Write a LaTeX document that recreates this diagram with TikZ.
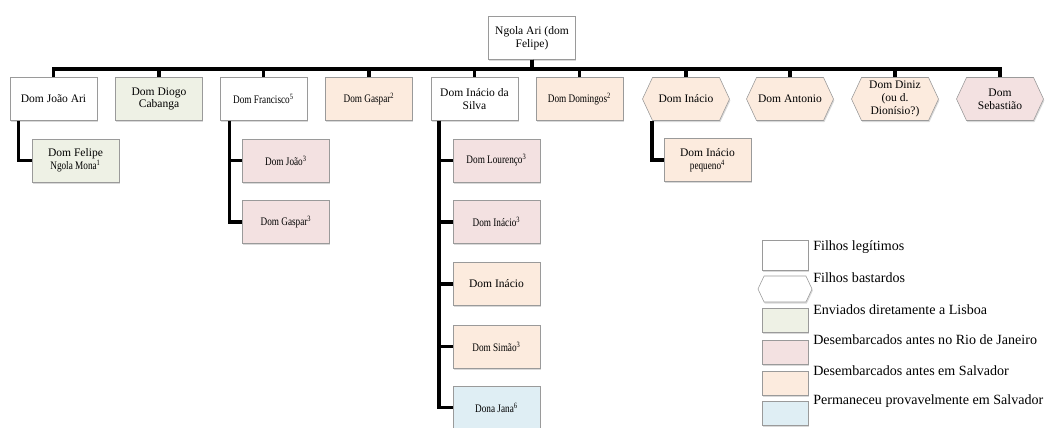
\documentclass[tikz,border=0pt]{standalone}
\usepackage{fontspec}
\setmainfont{Liberation Serif}
\newfontfamily\narrow[FakeStretch=0.8]{Liberation Serif}
\usetikzlibrary{shapes.symbols, shadows}

\definecolor{lisboa}{HTML}{EEF1E5}
\definecolor{rio}{HTML}{F3E1E1}
\definecolor{salvador}{HTML}{FCEBDE}
\definecolor{ficou}{HTML}{DFEEF4}
\definecolor{borda}{HTML}{9A9A9A}

\tikzset{
  filho/.style={draw=borda, fill=white, minimum width=2.175cm, minimum height=1.075cm,
    inner sep=1pt, align=center, font=\fontsize{8.2}{9}\selectfont,
    drop shadow={opacity=0.3, shadow xshift=0.6pt, shadow yshift=-1.2pt}},
  bastardo/.style={filho, signal, signal to=west and east, signal pointer angle=130},
  conn/.style={line width=2.6pt},
  leg/.style={anchor=west, inner sep=0pt, font=\fontsize{10}{11}\selectfont}
}

\begin{document}
\begin{tikzpicture}[x=0.025cm, y=-0.025cm]
\useasboundingbox (0,0) rectangle (1047,428);

			% pai
			\node[filho] (ngola) at (532,38) {Ngola Ari (dom\\Felipe)};
			
			% filhos
			\node[filho] (joao) at (53.5,99) {Dom João Ari};
			\node[filho, fill=lisboa] (diogo) at (159,99) {Dom Diogo\\Cabanga};
			\node[filho] (francisco) at (263.5,99) {\narrow Dom Francisco\textsuperscript{5}};
			\node[filho, fill=salvador] (gaspar) at (369,99) {\narrow Dom Gaspar\textsuperscript{2}};
			\node[filho] (silva) at (474.5,99) {Dom Inácio da\\Silva};
			\node[filho, fill=salvador] (domingos) at (579.5,99) {\narrow Dom Domingos\textsuperscript{2}};
			\node[bastardo, fill=salvador] (inacio) at (686,99) {Dom Inácio};
			\node[bastardo, fill=salvador] (antonio) at (790,99) {Dom Antonio};
			\node[bastardo, fill=salvador] (diniz) at (895,99) {Dom Diniz\\(ou d.\\Dionísio?)};
			\node[bastardo, fill=rio] (sebastiao) at (1000,99) {Dom\\Sebastião};
			
			% netos
			\node[filho, fill=lisboa] (felipe) at (75.5,160.5) {Dom Felipe\\{\narrow Ngola Mona\textsuperscript{1}}};
			\node[filho, fill=rio] (joaoF) at (286,160.5) {\narrow Dom João\textsuperscript{3}};
			\node[filho, fill=rio] (gasparF) at (286,222) {\narrow Dom Gaspar\textsuperscript{3}};
			\node[filho, fill=rio] (lourenco) at (496.5,160.5) {\narrow Dom Lourenço\textsuperscript{3}};
			\node[filho, fill=rio] (inacioS3) at (496.5,222) {\narrow Dom Inácio\textsuperscript{3}};
			\node[filho, fill=salvador] (inacioS) at (496.5,284) {Dom Inácio};
			\node[filho, fill=salvador] (simao) at (496.5,346.5) {\narrow Dom Simão\textsuperscript{3}};
			\node[filho, fill=ficou] (jana) at (496.5,407.5) {\narrow Dona Jana\textsuperscript{6}};
			\node[filho, fill=salvador] (pequeno) at (707.5,160) {Dom Inácio\\{\narrow pequeno\textsuperscript{4}}};
			
			\foreach \n in {joao, diogo, francisco, gaspar, silva, domingos, inacio, antonio, diniz, sebastiao}
				\draw[conn] (ngola.south) -- ++(0,9) -| (\n.north);
			
			\draw[conn] ([xshift=-0.875cm]joao.south) |- (felipe.west);
			\foreach \n in {joaoF, gasparF}
				\draw[conn] ([xshift=-0.85cm]francisco.south) |- (\n.west);
			\foreach \n in {lourenco, inacioS3, inacioS, simao, jana}
				\draw[conn] ([xshift=-0.89cm]silva.south) |- (\n.west);
			\draw[conn] ([xshift=-0.85cm]inacio.south) |- (pequeno.west);
			
			% legenda
			\node[filho, minimum width=1.15cm, minimum height=0.75cm] (l1) at (785,255) {};
			\node[bastardo, minimum width=1.35cm, minimum height=0.65cm] (l2) at (785,289) {};
			\node[filho, fill=lisboa, minimum width=1.15cm, minimum height=0.6cm] (l3) at (785,320) {};
			\node[filho, fill=rio, minimum width=1.15cm, minimum height=0.6cm] (l4) at (785,352.5) {};
			\node[filho, fill=salvador, minimum width=1.15cm, minimum height=0.6cm] (l5) at (785,383.5) {};
			\node[filho, fill=ficou, minimum width=1.15cm, minimum height=0.6cm] (l6) at (785,413.5) {};
			\node[leg] (t1) at (813,247) {Filhos legítimos};
			\node[leg] (t2) at (813,278) {Filhos bastardos};
			\node[leg] (t3) at (813,310) {Enviados diretamente a Lisboa};
			\node[leg] (t4) at (813,340) {Desembarcados antes no Rio de Janeiro};
			\node[leg] (t5) at (813,371) {Desembarcados antes em Salvador};
			\node[leg] (t6) at (813,401) {Permaneceu provavelmente em Salvador};
			
\end{tikzpicture}
\end{document}
